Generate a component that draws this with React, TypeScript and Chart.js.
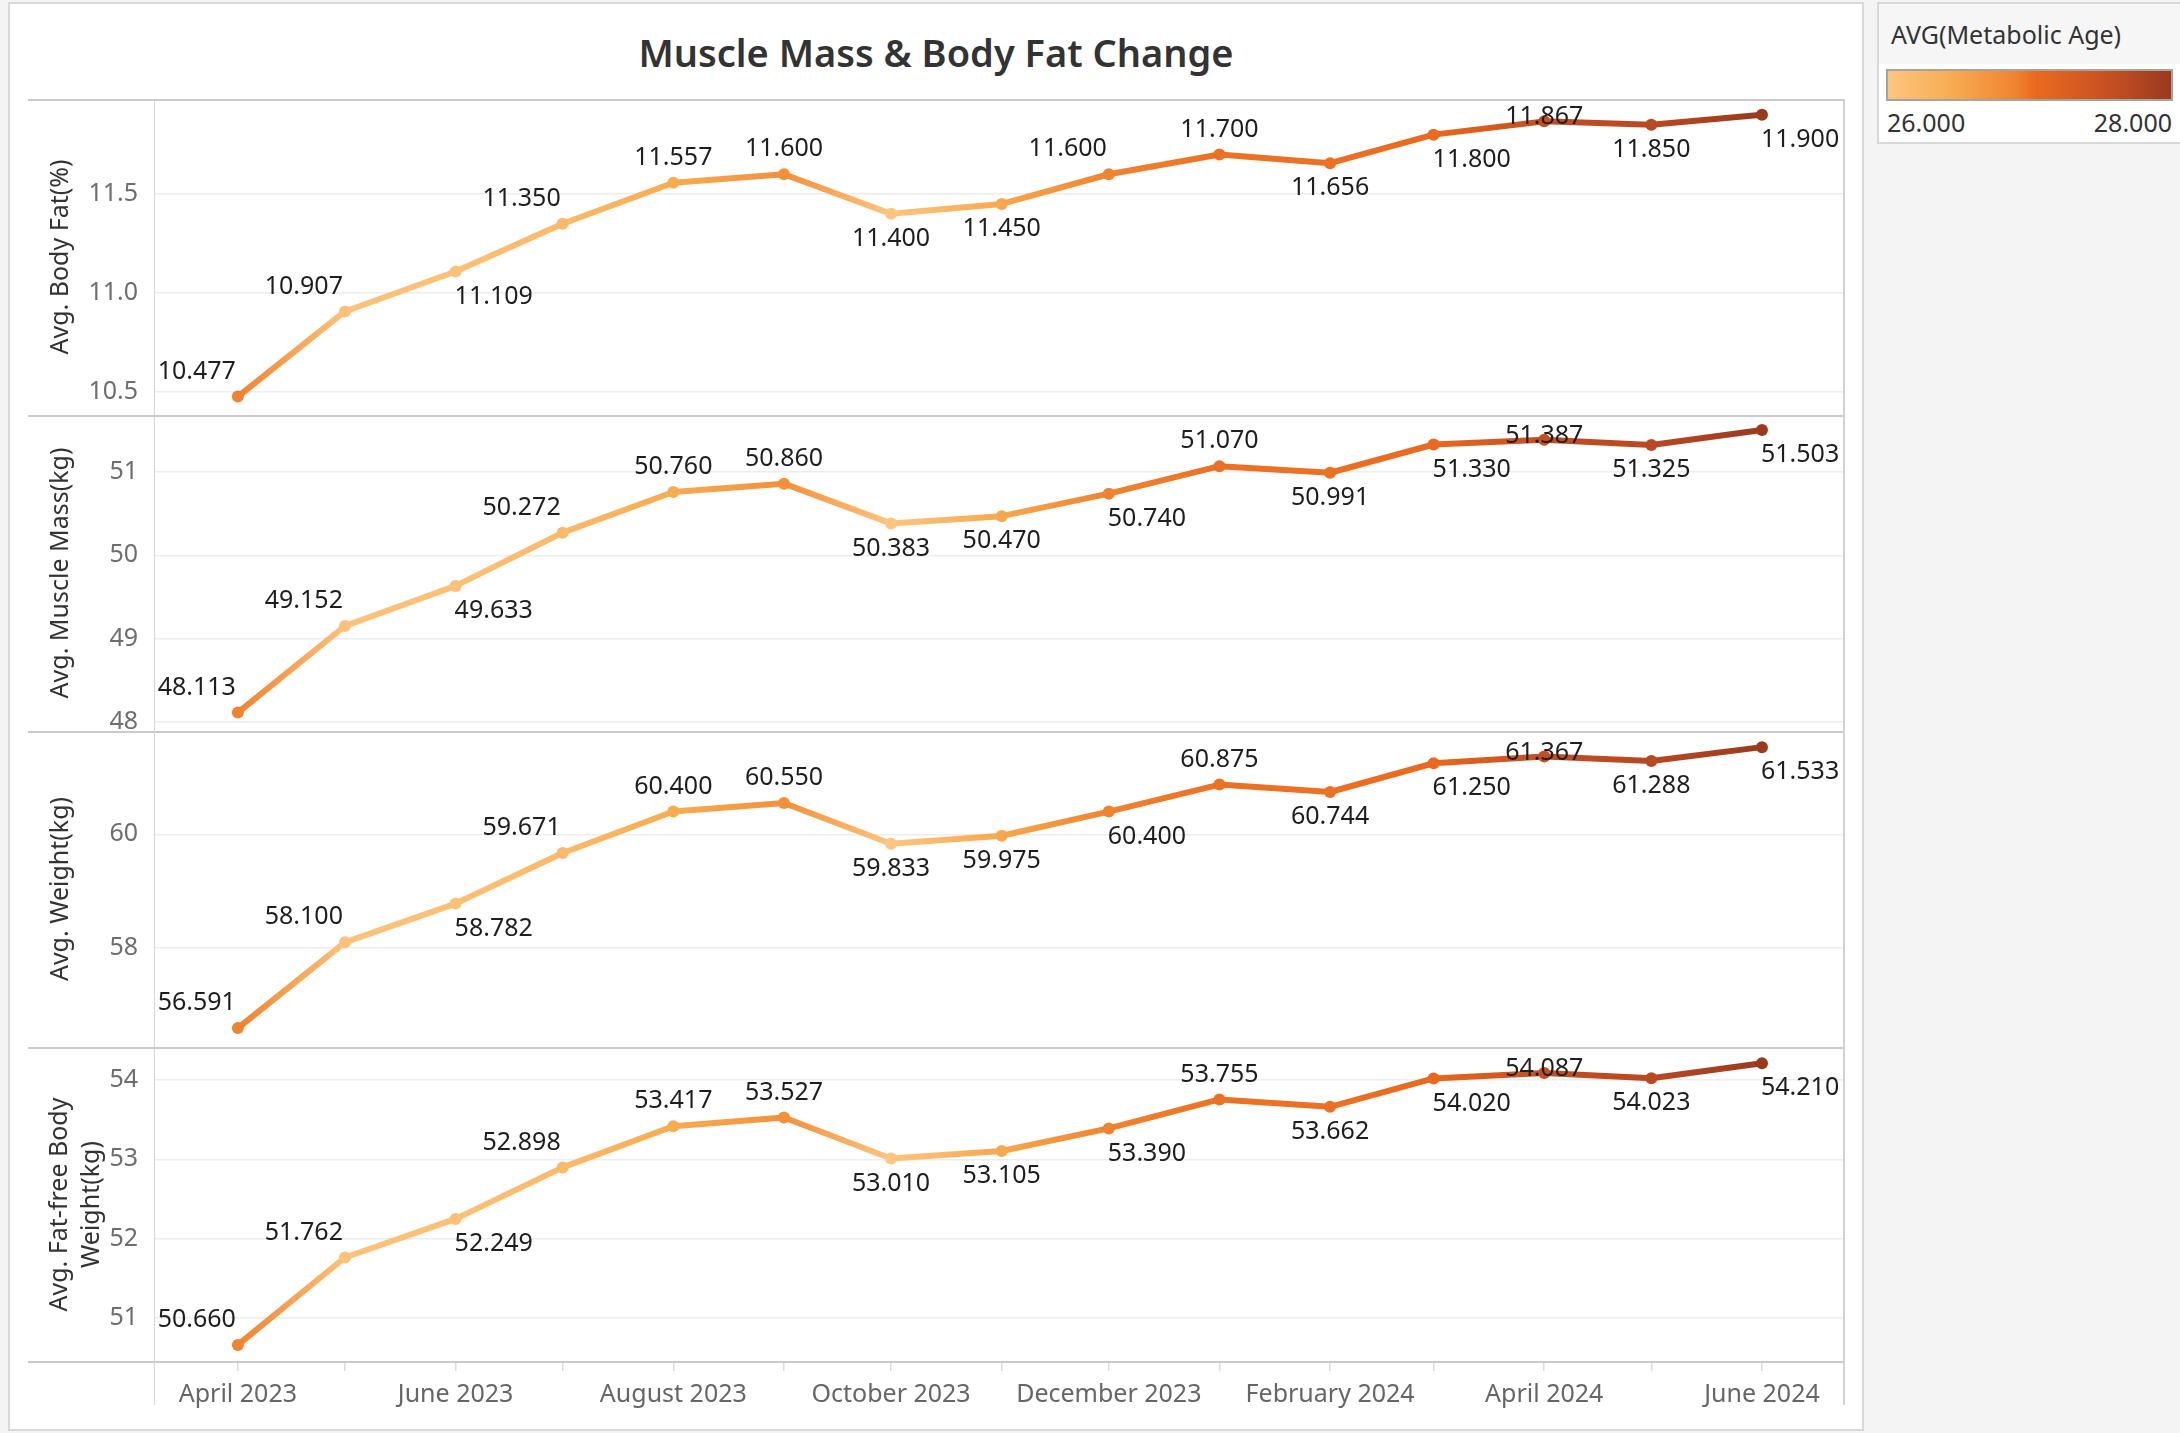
import React, { useEffect, useRef } from "react";
import { Chart, registerables } from "chart.js";

Chart.register(...registerables);

// ---------------- data ----------------
const months = [
  "2023-04-01", "2023-05-01", "2023-06-01", "2023-07-01", "2023-08-01",
  "2023-09-01", "2023-10-01", "2023-11-01", "2023-12-01", "2024-01-01",
  "2024-02-01", "2024-03-01", "2024-04-01", "2024-05-01", "2024-06-01",
];
const monthLabels = [
  "April 2023", "May 2023", "June 2023", "July 2023", "August 2023",
  "September 2023", "October 2023", "November 2023", "December 2023", "January 2024",
  "February 2024", "March 2024", "April 2024", "May 2024", "June 2024",
];
const xTickLabels = [
  "April 2023", "June 2023", "August 2023", "October 2023",
  "December 2023", "February 2024", "April 2024", "June 2024",
];
const avgMetabolicAge = [26.9, 26.05, 26.1, 26.2, 26.45, 26.75, 26.0, 26.5, 26.9, 27.0, 27.0, 27.05, 27.6, 27.7, 28.0];
const avgBodyFat = [10.477, 10.907, 11.109, 11.35, 11.557, 11.6, 11.4, 11.45, 11.6, 11.7, 11.656, 11.8, 11.867, 11.85, 11.9];
const avgMuscleMass = [48.113, 49.152, 49.633, 50.272, 50.76, 50.86, 50.383, 50.47, 50.74, 51.07, 50.991, 51.33, 51.387, 51.325, 51.503];
const avgWeight = [56.591, 58.1, 58.782, 59.671, 60.4, 60.55, 59.833, 59.975, 60.4, 60.875, 60.744, 61.25, 61.367, 61.288, 61.533];
const avgFatFreeWeight = [50.66, 51.762, 52.249, 52.898, 53.417, 53.527, 53.01, 53.105, 53.39, 53.755, 53.662, 54.02, 54.087, 54.023, 54.21];
const bodyFatTicks = [10.5, 11.0, 11.5];
const muscleMassTicks = [48, 49, 50, 51];
const weightTicks = [58, 60];
const fatFreeWeightTicks = [51, 52, 53, 54];
const legendRange = [26, 28];

// ---------------- styling ----------------
const FONT = '"Noto Sans", "DejaVu Sans", sans-serif';
const FS = 25;
const RAMP: [number, number[]][] = [
  [0, [253, 197, 128]],
  [0.22, [247, 173, 82]],
  [0.45, [240, 131, 48]],
  [0.52, [233, 106, 31]],
  [0.75, [204, 83, 34]],
  [1, [154, 58, 31]],
];

function rampColor(t: number): string {
  t = Math.max(0, Math.min(1, t));
  for (let i = 1; i < RAMP.length; i++) {
    const [t1, c1] = RAMP[i];
    const [t0, c0] = RAMP[i - 1];
    if (t <= t1) {
      const f = (t - t0) / (t1 - t0 || 1);
      const c = c0.map((v, k) => Math.round(v + (c1[k] - v) * f));
      return `rgb(${c[0]},${c[1]},${c[2]})`;
    }
  }
  const c = RAMP[RAMP.length - 1][1];
  return `rgb(${c[0]},${c[1]},${c[2]})`;
}

const ageColors = avgMetabolicAge.map((a) =>
  rampColor((a - legendRange[0]) / (legendRange[1] - legendRange[0]))
);

const DAY = 86400000;
const xValues = months.map((m) => (Date.parse(m) - Date.parse(months[0])) / DAY);

type Panel = {
  values: number[];
  ticks: number[];
  decimals: number;
  min: number;
  max: number;
  title: string | string[];
  titlePad: number;
  place: string;
  top: number;
  height: number;
  last: boolean;
};

const PANELS: Panel[] = [
  { values: avgBodyFat, ticks: bodyFatTicks, decimals: 1, min: 10.384, max: 11.98, title: "Avg. Body Fat(%)", titlePad: 17, place: "LLRLAABBLABRCBR", top: 99, height: 316, last: false },
  { values: avgMuscleMass, ticks: muscleMassTicks, decimals: 0, min: 47.892, max: 51.684, title: "Avg. Muscle Mass(kg)", titlePad: 17, place: "LLRLAABBRABRCBR", top: 415, height: 316, last: false },
  { values: avgWeight, ticks: weightTicks, decimals: 0, min: 56.259, max: 61.817, title: "Avg. Weight(kg)", titlePad: 17, place: "LLRLAABBRABRCBR", top: 731, height: 316, last: false },
  { values: avgFatFreeWeight, ticks: fatFreeWeightTicks, decimals: 0, min: 50.445, max: 54.416, title: ["Avg. Fat-free Body", "Weight(kg)"], titlePad: 16, place: "LLRLAABBRABRCBR", top: 1047, height: 315, last: true },
];

const X_MIN = -23.5;
const X_MAX = 449.7;
const AXIS_W = 126;
const X_AXIS_H = 60;
const CANVAS_LEFT = 28;
const CANVAS_W = 1817;

const pointLabelPlugin = {
  id: "pointLabels",
  afterDatasetsDraw(chart: any, _args: any, opts: any) {
    const meta = chart.getDatasetMeta(0);
    const ctx = chart.ctx;
    ctx.save();
    ctx.font = `${FS}px ${FONT}`;
    ctx.fillStyle = "#1e1e1e";
    ctx.textBaseline = "middle";
    meta.data.forEach((pt: any, i: number) => {
      const p = opts.place[i];
      const text = opts.values[i].toFixed(3);
      let x = pt.x;
      let y = pt.y;
      let align: CanvasTextAlign = "center";
      if (p === "L") { align = "right"; x -= 2; y -= 25; }
      else if (p === "R") { align = "left"; x -= 1; y += 25; }
      else if (p === "A") { y -= 25; }
      else if (p === "B") { y += 25; }
      else if (p === "C") { y -= 4; }
      ctx.textAlign = align;
      ctx.fillText(text, x, y);
    });
    ctx.restore();
  },
};

const framePlugin = {
  id: "panelFrame",
  afterDraw(chart: any, _args: any, opts: any) {
    const { ctx, chartArea: a } = chart;
    ctx.save();
    ctx.strokeStyle = "#cacaca";
    ctx.lineWidth = 2;
    ctx.beginPath();
    ctx.moveTo(0, a.top + 1);
    ctx.lineTo(a.right + 2, a.top + 1);
    if (opts.last) {
      ctx.moveTo(0, a.bottom);
      ctx.lineTo(a.right + 2, a.bottom);
    }
    ctx.stroke();
    ctx.strokeStyle = "#d2d2d2";
    ctx.beginPath();
    ctx.moveTo(a.right + 1, a.top);
    ctx.lineTo(a.right + 1, opts.last ? a.bottom + 43 : a.bottom);
    ctx.stroke();
    if (opts.last) {
      ctx.strokeStyle = "#d6d6d6";
      ctx.lineWidth = 1;
      ctx.beginPath();
      ctx.moveTo(a.left + 0.5, a.bottom);
      ctx.lineTo(a.left + 0.5, a.bottom + 43);
      ctx.stroke();
    }
    ctx.restore();
  },
};

function buildChart(canvas: HTMLCanvasElement, panel: Panel) {
  return new Chart(canvas, {
    type: "line",
    data: {
      datasets: [
        {
          data: panel.values.map((v, i) => ({ x: xValues[i], y: v })),
          borderWidth: 6,
          borderColor: (c: any) => {
            const chart = c.chart;
            const area = chart.chartArea;
            if (!area || !chart.scales.x) return ageColors[0];
            const g = chart.ctx.createLinearGradient(area.left, 0, area.right, 0);
            xValues.forEach((xv, i) => {
              const px = chart.scales.x.getPixelForValue(xv);
              const t = Math.max(0, Math.min(1, (px - area.left) / (area.right - area.left)));
              g.addColorStop(t, ageColors[i]);
            });
            return g;
          },
          borderCapStyle: "round",
          borderJoinStyle: "round",
          pointBackgroundColor: ageColors,
          pointBorderWidth: 0,
          pointRadius: 6,
          pointHoverRadius: 6,
          tension: 0,
          clip: false,
        } as any,
      ],
    },
    options: {
      animation: false,
      responsive: false,
      events: [],
      layout: { autoPadding: false, padding: { left: 0, right: 2, top: 0, bottom: 0 } },
      plugins: {
        legend: { display: false },
        tooltip: { enabled: false },
        title: { display: false },
        pointLabels: { place: panel.place, values: panel.values },
        panelFrame: { last: panel.last },
      } as any,
      scales: {
        x: {
          type: "linear",
          min: X_MIN,
          max: X_MAX,
          display: panel.last,
          afterBuildTicks: (s: any) => {
            s.ticks = xValues.map((v) => ({ value: v }));
          },
          afterFit: (s: any) => {
            if (panel.last) s.height = X_AXIS_H;
            s.paddingLeft = 0;
            s.paddingRight = 0;
          },
          ticks: {
            autoSkip: false,
            maxRotation: 0,
            minRotation: 0,
            padding: 9,
            color: "#666666",
            font: { family: FONT, size: FS, lineHeight: 1.2 },
            callback: (v: any) => {
              const idx = xValues.indexOf(Number(v));
              const name = idx >= 0 ? monthLabels[idx] : "";
              return xTickLabels.includes(name) ? name : "";
            },
          },
          grid: {
            drawOnChartArea: false,
            drawTicks: true,
            tickLength: 9,
            color: "#dcdcdc",
            lineWidth: 1.5,
          },
          border: { display: false },
        },
        y: {
          type: "linear",
          min: panel.min,
          max: panel.max,
          afterBuildTicks: (s: any) => {
            s.ticks = panel.ticks.map((v) => ({ value: v }));
          },
          afterFit: (s: any) => {
            s.width = AXIS_W;
            s.paddingTop = 0;
            s.paddingBottom = 0;
          },
          ticks: {
            padding: 16,
            color: "#6e6e6e",
            font: { family: FONT, size: FS },
            callback: (v: any) => Number(v).toFixed(panel.decimals),
          },
          grid: { color: "#ededed", lineWidth: 1.5, drawTicks: false },
          border: { display: true, color: "#d6d6d6", width: 1 },
          title: {
            display: true,
            text: panel.title,
            color: "#333333",
            font: { family: FONT, size: FS, lineHeight: 32 / FS },
            padding: { top: panel.titlePad, bottom: 0 },
          },
        },
      },
    } as any,
    plugins: [pointLabelPlugin, framePlugin] as any,
  });
}

function PanelChart({ panel }: { panel: Panel }) {
  const ref = useRef<HTMLCanvasElement | null>(null);
  const h = panel.height + (panel.last ? X_AXIS_H : 0);
  useEffect(() => {
    if (!ref.current) return;
    const chart = buildChart(ref.current, panel);
    return () => chart.destroy();
  }, [panel]);
  return (
    <canvas
      ref={ref}
      width={CANVAS_W}
      height={h}
      style={{ position: "absolute", left: CANVAS_LEFT, top: panel.top, width: CANVAS_W, height: h }}
    />
  );
}

const legendGradient = `linear-gradient(to right, ${RAMP.map(
  ([t]) => `${rampColor(t)} ${(t * 100).toFixed(1)}%`
).join(", ")})`;

export default function App() {
  return (
    <div
      style={{
        position: "absolute",
        left: 0,
        top: 0,
        width: 2180,
        height: 1433,
        background: "#f4f4f4",
        overflow: "hidden",
        fontFamily: FONT,
      }}
    >
      <div
        style={{
          position: "absolute",
          left: 8,
          top: 2,
          width: 1856,
          height: 1429,
          background: "#ffffff",
          border: "2px solid #d8d8d8",
          boxSizing: "border-box",
        }}
      />
      <div
        style={{
          position: "absolute",
          left: 8,
          top: 26,
          width: 1856,
          textAlign: "center",
          fontSize: 38,
          fontWeight: 600,
          color: "#333333",
          lineHeight: "normal",
          whiteSpace: "nowrap",
        }}
      >
        Muscle Mass &amp; Body Fat Change
      </div>
      {PANELS.map((p, i) => (
        <PanelChart key={i} panel={p} />
      ))}
      {/* colour legend */}
      <div
        style={{
          position: "absolute",
          left: 1877,
          top: 2,
          width: 305,
          height: 142,
          background: "#ffffff",
          border: "2px solid #d8d8d8",
          boxSizing: "border-box",
        }}
      >
        <div style={{ position: "absolute", left: 0, top: 0, right: 0, height: 60, background: "#f6f6f6" }} />
        <div
          style={{
            position: "absolute",
            left: 12,
            top: 17,
            height: 26,
            lineHeight: "26px",
            fontSize: FS,
            color: "#333333",
            whiteSpace: "nowrap",
          }}
        >
          AVG(Metabolic Age)
        </div>
      </div>
      <div
        style={{
          position: "absolute",
          left: 1886,
          top: 69,
          width: 287,
          height: 32,
          border: "2px solid #a8a39c",
          boxSizing: "border-box",
          background: legendGradient,
        }}
      />
      <div
        style={{ position: "absolute", left: 1887, top: 109, lineHeight: "26px", fontSize: FS, color: "#333333" }}
      >
        {legendRange[0].toFixed(3)}
      </div>
      <div
        style={{
          position: "absolute",
          left: 1972,
          width: 200,
          top: 109,
          lineHeight: "26px",
          fontSize: FS,
          color: "#333333",
          textAlign: "right",
        }}
      >
        {legendRange[1].toFixed(3)}
      </div>
    </div>
  );
}
